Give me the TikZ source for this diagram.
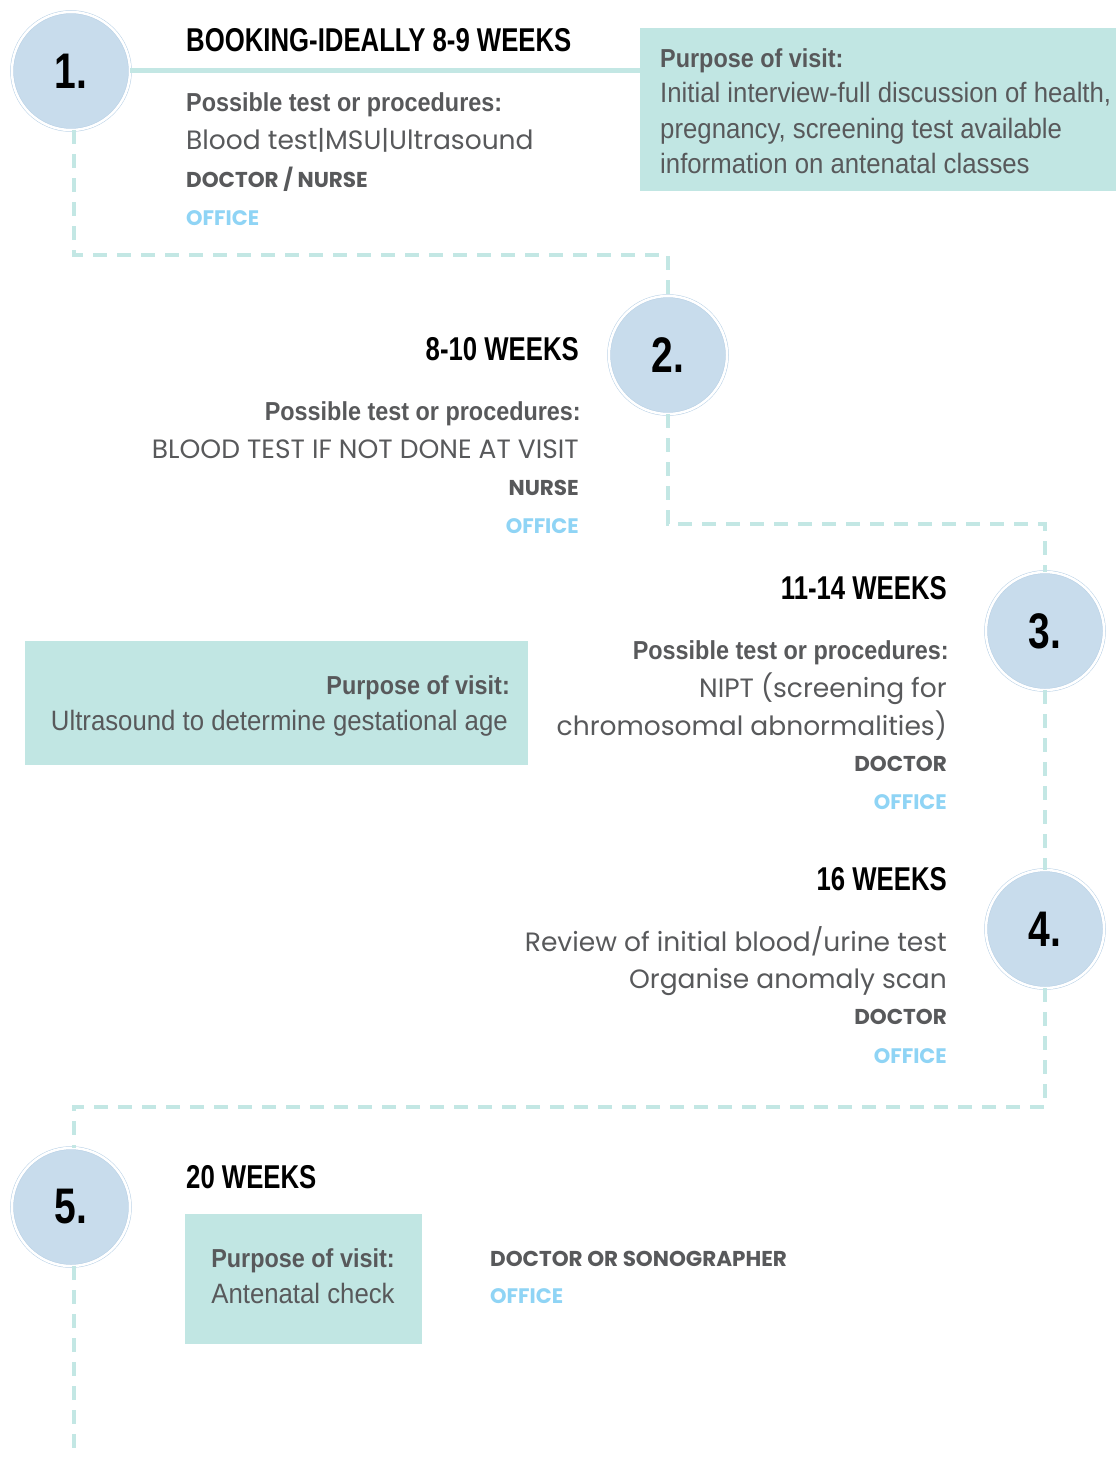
\documentclass[tikz,border=0pt]{standalone}
\usepackage{fontspec}
\setmainfont{Poppins}
\newfontfamily\condfont[FakeStretch=0.78]{Liberation Sans}
\newfontfamily\procfont[FakeStretch=0.9]{Liberation Sans}
\newfontfamily\purpfont[FakeStretch=0.92]{Liberation Sans}
\usetikzlibrary{positioning}
\definecolor{circblue}{HTML}{C8DCEC}
\definecolor{circline}{HTML}{B7D0E6}
\definecolor{tealline}{HTML}{C3E7E4}
\definecolor{tealbox}{HTML}{C1E6E3}
\definecolor{greytext}{HTML}{58595B}
\definecolor{officeblue}{HTML}{8FD4F5}
\tikzset{
  stepcirc/.style={circle, minimum size=118pt, inner sep=0pt, fill=circblue,
    draw=circline, double=white, double distance=2.5pt, line width=0.5pt,
    font=\condfont\bfseries\fontsize{50}{52}\selectfont},
  trail/.style={draw=tealline, line width=4pt, dash pattern=on 14pt off 10pt},
  weeks/.style={font=\condfont\bfseries\fontsize{33}{36}\selectfont, inner sep=0pt},
  proc/.style={font=\procfont\bfseries\fontsize{26}{30}\selectfont, text=greytext, inner sep=0pt},
  body/.style={font=\fontsize{26.5}{30}\selectfont, text=greytext, inner sep=0pt},
  staff/.style={font=\bfseries\fontsize{21.5}{24}\selectfont, text=greytext, inner sep=0pt},
  office/.style={font=\bfseries\fontsize{21}{24}\selectfont, text=officeblue, inner sep=0pt},
  purpose/.style={font=\purpfont\fontsize{28}{35.5}\selectfont, text=greytext, inner sep=0pt},
  purposebox/.style={fill=tealbox, draw=none}
}
\begin{document}
\begin{tikzpicture}[x=1pt, y=-1pt]
\useasboundingbox[fill=white] (0,0) rectangle (1116,1458);
% purpose boxes
\path[purposebox] (640,28) rectangle (1116,191);
\path[purposebox] (25,641) rectangle (528,765);
\path[purposebox] (185,1214) rectangle (422,1344);
\coordinate (box1) at (640,71);
% step circles
\node[stepcirc] (c1) at (71,71) {1.};
\node[stepcirc] (c2) at (668,355) {2.};
\node[stepcirc] (c3) at (1045,631) {3.};
\node[stepcirc] (c4) at (1045,929) {4.};
\node[stepcirc] (c5) at (71,1207) {5.};
\coordinate (end) at (74,1458);
% trail between the steps
\draw[tealline, line width=5pt] (c1.east) -- (box1);
\draw[trail] ([xshift=3pt]c1.south) |- (668,255) -- (c2.north);
\draw[trail] (c2.south) |- (1045,524) -- (c3.north);
\draw[trail] (c3.south) -- (c4.north);
\draw[trail] (c4.south) |- (74,1107) -- ([xshift=3pt]c5.north);
\draw[trail] ([xshift=3pt]c5.south) -- (end);
% step 1
\node[weeks, anchor=base west] (w1) at (186,52) {BOOKING-IDEALLY 8-9 WEEKS};
\node[proc, anchor=base west] (p1) at (186,112) {Possible test or procedures:};
\node[body, anchor=base west] (t1) at (186,150) {Blood test|MSU|Ultrasound};
\node[staff, anchor=base west] (s1) at (186,188) {DOCTOR / NURSE};
\node[office, anchor=base west] (o1) at (186,225) {OFFICE};
\node[proc, anchor=base west] (u1) at (660,68) {Purpose of visit:};
\node[purpose, anchor=base west] (v1) at (660,103) {Initial interview-full discussion of health,};
\node[purpose, anchor=base west] (v1b) at (660,139) {pregnancy, screening test available};
\node[purpose, anchor=base west] (v1c) at (660,174) {information on antenatal classes};
% step 2
\node[weeks, anchor=base east] (w2) at (579,360) {8-10 WEEKS};
\node[proc, anchor=base east] (p2) at (581,420) {Possible test or procedures:};
\node[body, anchor=base east] (t2) at (579,458) {BLOOD TEST IF NOT DONE AT VISIT};
\node[staff, anchor=base east] (s2) at (579,495) {NURSE};
\node[office, anchor=base east] (o2) at (579,533) {OFFICE};
% step 3
\node[weeks, anchor=base east] (w3) at (947,599) {11-14 WEEKS};
\node[proc, anchor=base east] (p3) at (949,659) {Possible test or procedures:};
\node[body, anchor=base east] (t3) at (947,697) {NIPT (screening for};
\node[body, anchor=base east] (t3b) at (947,735) {chromosomal abnormalities)};
\node[staff, anchor=base east] (s3) at (947,771) {DOCTOR};
\node[office, anchor=base east] (o3) at (947,809) {OFFICE};
\node[proc, anchor=base east] (u3) at (510,694) {Purpose of visit:};
\node[purpose, anchor=base east] (v3) at (508,730) {Ultrasound to determine gestational age};
% step 4
\node[weeks, anchor=base east] (w4) at (947,890) {16 WEEKS};
\node[body, anchor=base east] (t4) at (947,951) {Review of initial blood/urine test};
\node[body, anchor=base east] (t4b) at (947,988) {Organise anomaly scan};
\node[staff, anchor=base east] (s4) at (947,1024) {DOCTOR};
\node[office, anchor=base east] (o4) at (947,1063) {OFFICE};
% step 5
\node[weeks, anchor=base west] (w5) at (186,1188) {20 WEEKS};
\node[proc, anchor=base] (u5) at (303,1267) {Purpose of visit:};
\node[purpose, anchor=base] (v5) at (303,1303) {Antenatal check};
\node[staff, anchor=base west] (s5) at (490,1266) {DOCTOR OR SONOGRAPHER};
\node[office, anchor=base west] (o5) at (490,1303) {OFFICE};
\end{tikzpicture}
\end{document}
